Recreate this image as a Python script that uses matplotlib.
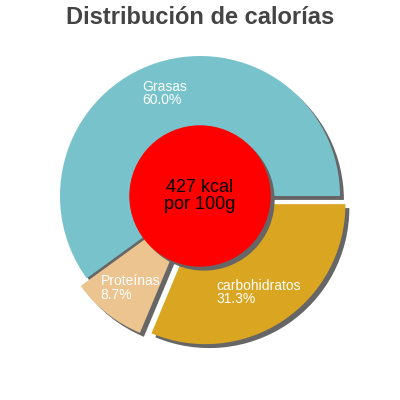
import matplotlib
matplotlib.use("Agg")
import matplotlib.pyplot as plt
from matplotlib.patches import Circle

categories = ["Grasas", "Proteínas", "carbohidratos"]
values = [60.0, 8.7, 31.3]
colors = ["#78c3cb", "#ecc490", "#daa520"]
explode = [0.0, 0.07, 0.07]
center_text = "427 kcal\npor 100g"
title = "Distribución de calorías"

plt.rcParams['font.family'] = ['Liberation Sans', 'DejaVu Sans']

fig = plt.figure(figsize=(4, 4), dpi=100)
ax = fig.add_axes([0, 0, 1, 1])

sh = (0.028, -0.028)
ax.pie(values, startangle=0, counterclock=True, explode=explode, radius=1.0,
       center=sh, colors=["#666666"] * 3, wedgeprops=dict(linewidth=0))
ax.pie(values, startangle=0, counterclock=True, explode=explode, radius=1.0,
       colors=colors, wedgeprops=dict(linewidth=0))

ax.add_patch(Circle(sh, 0.5, color="#666666", zorder=5))
ax.add_patch(Circle((0, 0), 0.5, color="#ff0000", zorder=6))
ax.text(0, 0, center_text, ha="center", va="center", fontsize=13, color="black",
        zorder=7, linespacing=1.0)

label_pos = [(-0.41, 0.83), (-0.71, -0.56), (0.12, -0.59)]
for cat, v, (x, y) in zip(categories, values, label_pos):
    ax.text(x, y, f"{cat}\n{v:.1f}%", ha="left", va="top", fontsize=10,
            color="white", zorder=8, linespacing=0.92)

ax.set_xlim(-200 / 140, 200 / 140)
ax.set_ylim(-204 / 140, 196 / 140)
ax.set_aspect("equal")
ax.axis("off")

fig.text(0.5, 1 - 17 / 400, title, ha="center", va="center", fontsize=17,
         fontweight="bold", color="#444444")

fig.savefig("out.png", dpi=100)
